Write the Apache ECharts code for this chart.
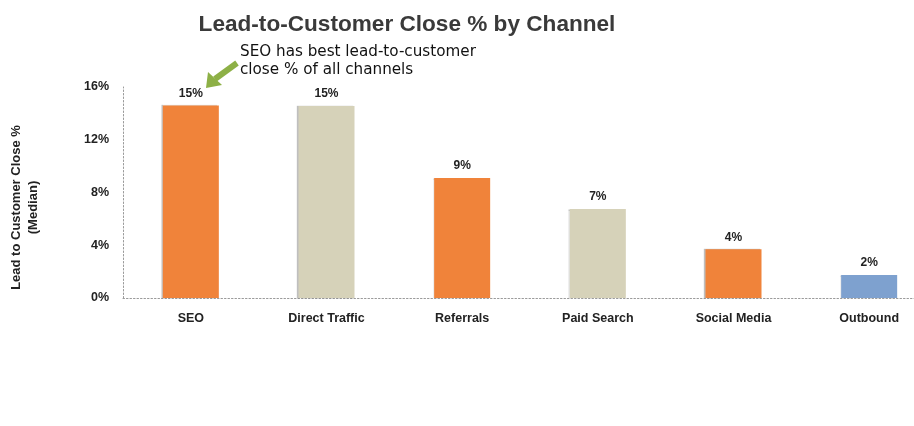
<!DOCTYPE html>
<html>
<head>
<meta charset="utf-8">
<script src="https://cdn.jsdelivr.net/npm/echarts@6/dist/echarts.min.js"></script>
<style>html,body{margin:0;padding:0;background:#fff;overflow:hidden;width:914px;height:426px}#c{width:937px;height:426px}</style>
</head>
<body>
<div id="c"></div>
<script>
var categories = ['SEO', 'Direct Traffic', 'Referrals', 'Paid Search', 'Social Media', 'Outbound'];
var closeRates = [14.6, 14.55, 9.1, 6.75, 3.7, 1.75];
var barColors = ['#F0833A', '#D6D2B9', '#F0833A', '#D6D2B9', '#F0833A', '#7EA1CF'];
var yTicks = [0, 4, 8, 12, 16];
var titleText = 'Lead-to-Customer Close % by Channel';
var yAxisTitle = 'Lead to Customer Close %\n(Median)';
var noteText = 'SEO has best lead-to-customer\nclose % of all channels';

var chart = echarts.init(document.getElementById('c'));
var labelFont = 'Liberation Sans';
chart.setOption({
  animation: false,
  title: {
    text: titleText,
    left: 402, top: 8, textAlign: 'center',
    textStyle: { fontFamily: labelFont, fontWeight: 'bold', fontSize: 22.6, color: '#3a3a3a' }
  },
  grid: { left: 122, right: 0, top: 87, bottom: 128 },
  xAxis: {
    type: 'category',
    data: categories,
    axisLine: { lineStyle: { color: '#9a9a9a', type: [1.5, 2], width: 1 } },
    axisTick: { show: false },
    axisLabel: { margin: 14, fontFamily: labelFont, fontWeight: 'bold', fontSize: 12.5, color: '#222' }
  },
  yAxis: {
    type: 'value',
    min: yTicks[0], max: yTicks[yTicks.length - 1], interval: 4,
    name: yAxisTitle,
    nameLocation: 'middle',
    nameGap: 81,
    nameRotate: 90,
    nameTextStyle: { fontFamily: labelFont, fontWeight: 'bold', fontSize: 13, color: '#222', lineHeight: 17,
      padding: [0, 30, 0, 0] },
    axisLine: { show: true, lineStyle: { color: '#9a9a9a', type: [1.5, 2], width: 1 } },
    axisTick: { show: false },
    splitLine: { show: false },
    axisLabel: { margin: 14, fontFamily: labelFont, fontWeight: 'bold', fontSize: 12.5, color: '#222',
      formatter: function (v) { return v + '%'; } }
  },
  series: [{
    type: 'bar',
    data: closeRates.map(function (v, i) { return { value: v, itemStyle: { color: barColors[i] } }; }),
    barWidth: 56,
    itemStyle: { shadowColor: 'rgba(0,0,0,0.25)', shadowOffsetX: -1.5, shadowBlur: 1 },
    label: {
      show: true, position: 'top', distance: 6,
      fontFamily: labelFont, fontWeight: 'bold', fontSize: 12, color: '#222',
      formatter: function (p) { return Math.round(p.value) + '%'; }
    }
  }],
  graphic: [
    { type: 'text', left: 240, top: 43,
      style: { text: noteText, fontFamily: 'DejaVu Sans', fontSize: 15.2, lineHeight: 18, fill: '#111' } },
    { type: 'line', shape: { x1: 237, y1: 63, x2: 215, y2: 79 },
      style: { stroke: '#8DB046', lineWidth: 6 } },
    { type: 'polygon', shape: { points: [[206, 88], [208, 72], [222, 85]] },
      style: { fill: '#8DB046' } }
  ]
});
</script>
</body>
</html>
